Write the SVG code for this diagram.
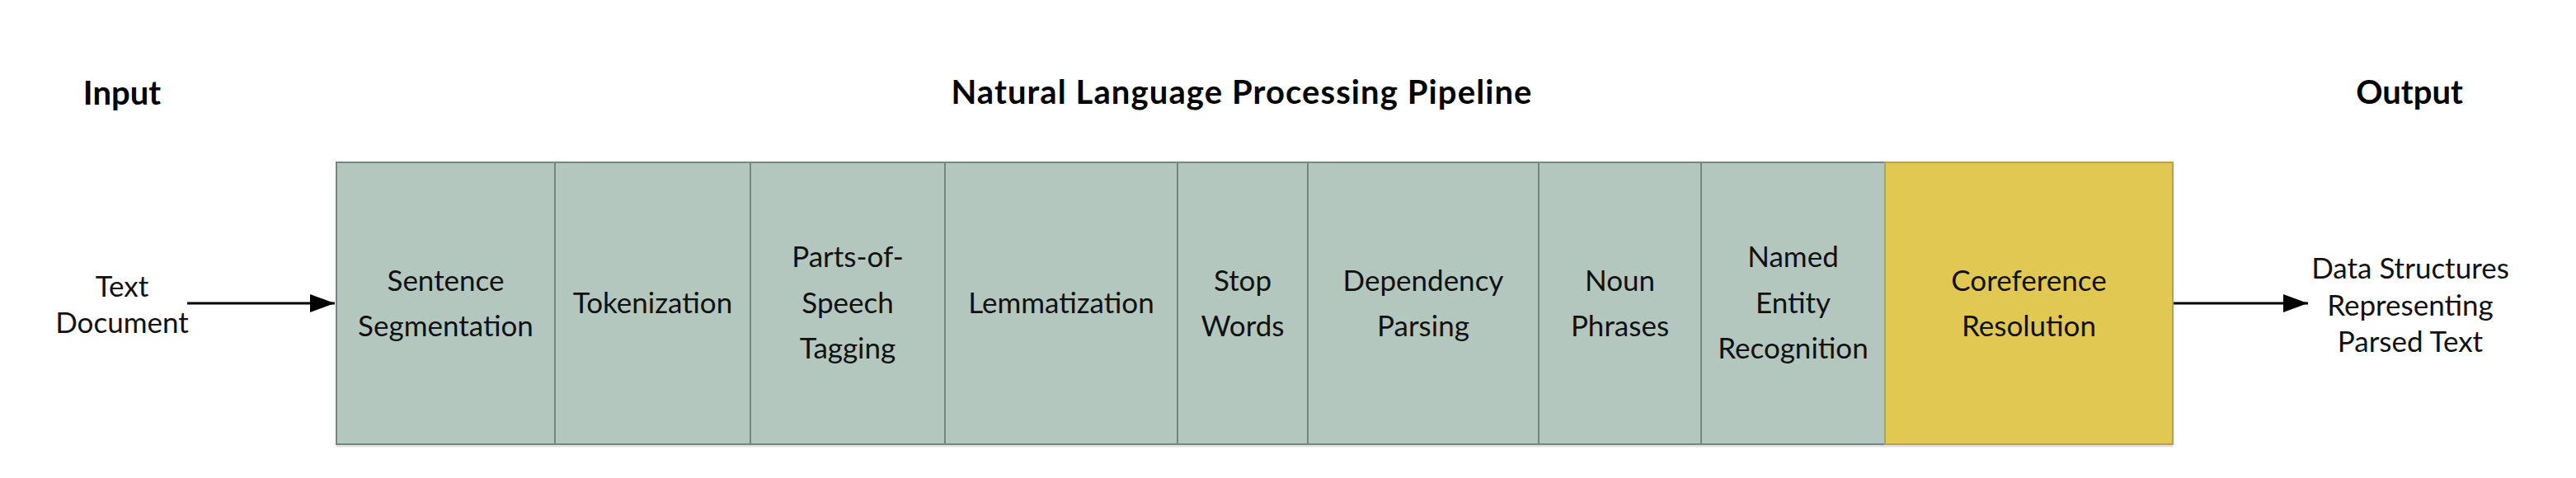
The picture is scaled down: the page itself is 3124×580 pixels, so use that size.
<svg xmlns="http://www.w3.org/2000/svg" width="3124" height="580" viewBox="0 0 3124 580">
<style>
.title{font-family:Lato,"Liberation Sans",sans-serif;font-weight:bold;font-size:40px;fill:#000;text-anchor:middle}
.lbl{font-family:Lato,"Liberation Sans",sans-serif;font-size:35px;fill:#111;text-anchor:middle}
.cell{fill:#b3c7bf;stroke:#72877f;stroke-width:2}
.hl{fill:#e1c852;stroke:#b7a349;stroke-width:2}
.conn{stroke:#000;stroke-width:3;fill:none}
</style>
<defs>
<marker id="arr" markerUnits="userSpaceOnUse" markerWidth="32" markerHeight="22" refX="30" refY="11" orient="auto">
<path d="M0,0 L30,11 L0,22 z" fill="#000"/>
</marker>
</defs>
<rect width="3124" height="580" fill="#fff"/>
<line x1="408" y1="541" x2="2635" y2="541" stroke="#000" stroke-opacity="0.12" stroke-width="3"/>
<g id="titles">
<text class="title" x="148" y="127">Input</text>
<text class="title" x="1506" y="126" letter-spacing="1.1">Natural Language Processing Pipeline</text>
<text class="title" x="2922" y="126">Output</text>
</g>
<g id="input">
<text class="lbl" x="148" y="360">Text</text>
<text class="lbl" x="148" y="404">Document</text>
</g>
<g id="sentence-segmentation">
<rect class="cell" x="408" y="197" width="265" height="342"/>
<text class="lbl" x="540.5" y="353">Sentence</text>
<text class="lbl" x="540.5" y="408">Segmentation</text>
</g>
<g id="tokenization">
<rect class="cell" x="673" y="197" width="237" height="342"/>
<text class="lbl" x="791.5" y="380">Tokenization</text>
</g>
<g id="pos-tagging">
<rect class="cell" x="910" y="197" width="236" height="342"/>
<text class="lbl" x="1028" y="324">Parts-of-</text>
<text class="lbl" x="1028" y="380">Speech</text>
<text class="lbl" x="1028" y="435">Tagging</text>
</g>
<g id="lemmatization">
<rect class="cell" x="1146" y="197" width="282" height="342"/>
<text class="lbl" x="1287" y="380">Lemmatization</text>
</g>
<g id="stop-words">
<rect class="cell" x="1428" y="197" width="158" height="342"/>
<text class="lbl" x="1507" y="353">Stop</text>
<text class="lbl" x="1507" y="408">Words</text>
</g>
<g id="dependency-parsing">
<rect class="cell" x="1586" y="197" width="280" height="342"/>
<text class="lbl" x="1726" y="353">Dependency</text>
<text class="lbl" x="1726" y="408">Parsing</text>
</g>
<g id="noun-phrases">
<rect class="cell" x="1866" y="197" width="197" height="342"/>
<text class="lbl" x="1964.5" y="353">Noun</text>
<text class="lbl" x="1964.5" y="408">Phrases</text>
</g>
<g id="named-entity-recognition">
<rect class="cell" x="2063" y="197" width="223" height="342"/>
<text class="lbl" x="2174.5" y="324">Named</text>
<text class="lbl" x="2174.5" y="380">Entity</text>
<text class="lbl" x="2174.5" y="435">Recognition</text>
</g>
<g id="coreference-resolution">
<rect class="hl" x="2286" y="197" width="349" height="342"/>
<text class="lbl" x="2460.5" y="353">Coreference</text>
<text class="lbl" x="2460.5" y="408">Resolution</text>
</g>
<g id="output">
<text class="lbl" x="2923" y="338">Data Structures</text>
<text class="lbl" x="2923" y="383">Representing</text>
<text class="lbl" x="2923" y="427">Parsed Text</text>
</g>
<g id="connectors">
<line class="conn" x1="227" y1="368" x2="406" y2="368" marker-end="url(#arr)"/>
<line class="conn" x1="2636" y1="368" x2="2799" y2="368" marker-end="url(#arr)"/>
</g>
</svg>
